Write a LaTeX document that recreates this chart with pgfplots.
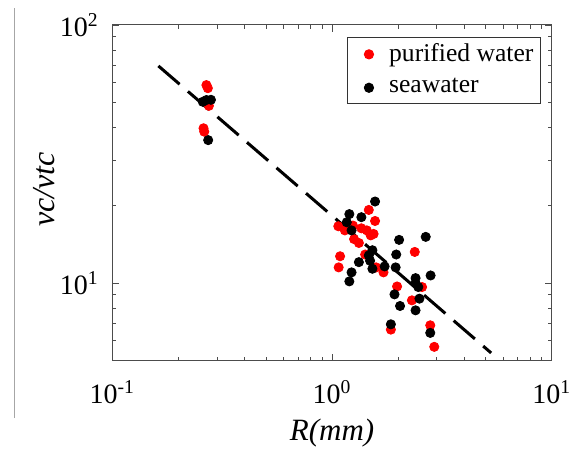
\documentclass[border=0pt]{standalone}
\usepackage{fontspec}
\setmainfont{Liberation Serif}
\usepackage{pgfplots}
\pgfplotsset{compat=1.18}

\begin{document}
\fontsize{14}{16}\selectfont
\begin{tikzpicture}
\begin{axis}[%
name=main,%
width=219.7pt, height=167.9pt,%
scale only axis,%
xmode=log, ymode=log,%
xmin=0.1, xmax=10, ymin=5, ymax=100,%
xtick={0.1,1,10},%
xticklabels={10\textsuperscript{-1},10\textsuperscript{0},10\textsuperscript{1}},%
ytick={10,100},%
yticklabels={10\textsuperscript{1},10\textsuperscript{2}},%
minor xtick={0.2,0.3,0.4,0.5,0.6,0.7,0.8,0.9,2,3,4,5,6,7,8,9},%
minor ytick={6,7,8,9,20,30,40,50,60,70,80,90},%
tick align=inside,%
major tick length=3.5pt, minor tick length=2pt,%
every tick/.style={black!70, line width=0.4pt},%
axis line style={black!70, line width=0.5pt},%
xticklabel style={yshift=-5pt},%
yticklabel style={xshift=-2pt},%
xlabel={\fontsize{15.5}{17}\selectfont\textit{R(mm)}},%
ylabel={\fontsize{16}{18}\selectfont\textit{vc/vtc}},%
xlabel style={at={(axis description cs:0.5,-0.2144)}, anchor=center},%
ylabel style={at={(axis description cs:-0.1548,0.51)}, anchor=center},%
legend style={at={(axis description cs:0.975,0.965)}, anchor=north east,%
  draw=black!80, line width=0.5pt, font=\fontsize{12.8}{15}\selectfont,%
  inner xsep=3.4pt, inner ysep=1pt, row sep=2.5pt,%
  nodes={inner xsep=0pt}},%
legend image code/.code={%
  \path[draw=none,fill=none] (-7.3pt,0pt) (10.1pt,0pt);%
  \draw[#1] plot coordinates {(0pt,0pt)};},%
legend cell align=left,%
]

\addplot [only marks, mark=*, mark size=2.3pt, color=red] coordinates {
(0.268,58.5) (0.272,56.9) (0.275,48.6) (0.260,39.8) (0.262,38.6)
(1.068,16.6) (1.144,16.0) (1.245,16.7) (1.26,14.8) (1.325,14.3)
(1.36,16.3) (1.44,16.0) (1.50,15.3) (1.546,15.5) (1.47,19.2)
(1.57,17.4) (1.088,12.7) (1.072,11.5) (1.415,12.9) (1.588,11.5)
(1.715,11.0) (2.38,13.2) (1.978,9.7) (2.57,9.65) (2.31,8.57)
(1.853,6.6) (2.80,6.86) (2.92,5.66)
};
\addlegendentry{purified water}

\addplot [only marks, mark=*, mark size=2.3pt, color=black] coordinates {
(0.258,50.4) (0.268,51.2) (0.281,51.3) (0.273,35.8)
(1.167,17.2) (1.199,18.5) (1.227,16.0) (1.36,18.0) (1.57,20.7)
(1.527,13.4) (1.47,12.8) (1.49,12.2) (1.527,11.36) (1.325,12.05)
(1.227,11.0) (1.199,10.15) (1.735,11.6) (1.948,11.5) (2.02,14.7)
(1.96,12.9) (2.67,15.1) (2.40,10.45) (2.40,10.0) (2.47,9.65)
(2.81,10.7) (1.925,9.04) (2.04,8.15) (2.50,8.7) (2.40,7.84)
(1.853,6.92) (2.80,6.41)
};
\addlegendentry{seawater}

% fitted power law
\addplot [black, line width=1.5pt, dash pattern=on 14pt off 5.5pt, forget plot] coordinates {
(0.162,69.4) (5.30,5.36)
};

\end{axis}

\pgfresetboundingbox
\coordinate (bl) at ([xshift=-56.2pt,yshift=-44.65pt]main.south west);
\path (bl) rectangle ([xshift=12.15pt,yshift=12.5pt]main.north east);

% thin crop line at the left edge
\draw [black!35, line width=0.4pt] ([xshift=7.2pt,yshift=16pt]bl) -- ([xshift=7.2pt,yshift=221pt]bl);
\end{tikzpicture}
\end{document}
